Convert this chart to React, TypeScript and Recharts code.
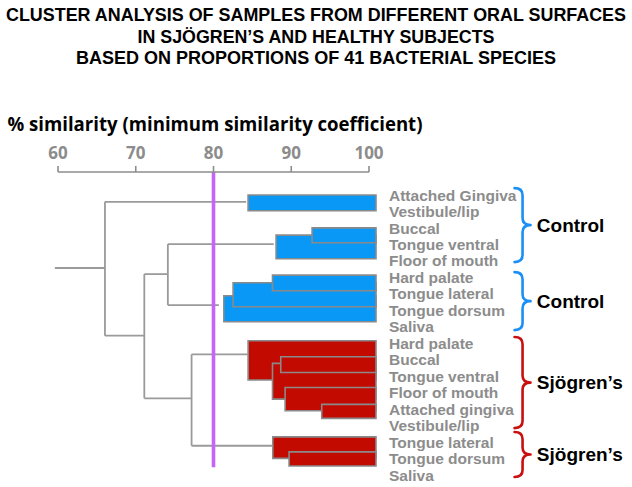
import React from 'react';
import { ComposedChart, XAxis, YAxis, ReferenceArea, ReferenceLine, Scatter } from 'recharts';

// ---------- data ----------
const TITLE_LINES = [
  'CLUSTER ANALYSIS OF SAMPLES FROM DIFFERENT ORAL SURFACES',
  'IN SJÖGREN’S AND HEALTHY SUBJECTS',
  'BASED ON PROPORTIONS OF 41 BACTERIAL SPECIES',
];
const AXIS_TITLE = '% similarity (minimum similarity coefficient)';
const X_TICKS = [60, 70, 80, 90, 100];

const ROW_LABELS = [
  'Attached Gingiva',
  'Vestibule/lip',
  'Buccal',
  'Tongue ventral',
  'Floor of mouth',
  'Hard palate',
  'Tongue lateral',
  'Tongue dorsum',
  'Saliva',
  'Hard palate',
  'Buccal',
  'Tongue ventral',
  'Floor of mouth',
  'Attached gingiva',
  'Vestibule/lip',
  'Tongue lateral',
  'Tongue dorsum',
  'Saliva',
];

// merge blocks: similarity at which the cluster joins, and the row span it covers
const CONTROL_MERGES = [
  { sim: 84.45, top: 0.0, bottom: 0.95 },
  { sim: 88.05, top: 2.43, bottom: 3.87 },
  { sim: 92.68, top: 1.99, bottom: 2.9 },
  { sim: 81.33, top: 6.11, bottom: 7.69 },
  { sim: 82.52, top: 5.32, bottom: 6.78 },
  { sim: 87.59, top: 4.86, bottom: 5.81 },
];
const SJOGREN_MERGES = [
  { sim: 84.45, top: 8.85, bottom: 11.23 },
  { sim: 87.59, top: 10.22, bottom: 12.39 },
  { sim: 88.65, top: 9.82, bottom: 10.77 },
  { sim: 89.21, top: 11.68, bottom: 13.1 },
  { sim: 93.92, top: 12.71, bottom: 13.56 },
  { sim: 87.63, top: 14.68, bottom: 15.99 },
  { sim: 89.72, top: 15.59, bottom: 16.45 },
];
const MERGE_END = 100.9;

// dendrogram links
const H_LINKS = [
  { row: 4.43, from: 59.6, to: 66.04 },
  { row: 0.41, from: 66.04, to: 84.2 },
  { row: 8.54, from: 66.04, to: 71.1 },
  { row: 4.8, from: 71.1, to: 74.13 },
  { row: 2.98, from: 74.13, to: 87.75 },
  { row: 6.68, from: 74.13, to: 80.69 },
  { row: 12.34, from: 71.1, to: 77.18 },
  { row: 9.67, from: 77.18, to: 84.45 },
  { row: 15.22, from: 77.18, to: 87.63 },
];
const V_LINKS = [
  { sim: 66.04, from: 0.41, to: 8.54 },
  { sim: 71.1, from: 4.8, to: 12.34 },
  { sim: 74.13, from: 2.98, to: 6.68 },
  { sim: 77.18, from: 9.67, to: 15.22 },
];

const THRESHOLD = 80;
const THRESHOLD_END_ROW = 16.53;

const GROUPS = [
  { label: 'Control', kind: 'control', top: -0.42, bottom: 4.07 },
  { label: 'Control', kind: 'control', top: 4.68, bottom: 8.2 },
  { label: 'Sjögren’s', kind: 'sjogren', top: 8.62, bottom: 14.15 },
  { label: 'Sjögren’s', kind: 'sjogren', top: 14.39, bottom: 17.12 },
];

// leaves (all samples are 100% similar to themselves)
const LEAVES = ROW_LABELS.map((label, i) => ({ sim: 100, row: i, label }));

// ---------- layout / style ----------
const W = 632;
const H = 487;
const ROW_DOMAIN: [number, number] = [-1.4, 17.3];
const BRACE_X: [number, number] = [118.72, 120.78];
const BLUE = '#0a98f6';
const RED = '#c20a00';
const GRAY_LINE = '#9a9a9a';
const GRAY_EDGE = '#8a8a8a';
const GRAY_TEXT = '#8c8c8c';
const PURPLE = '#c564f6';
const BRACE_COLORS: Record<string, string> = { control: '#1a8ff5', sjogren: '#c81010' };
const TITLE_WIDTHS = [620, 357, 480];
const TITLE_BASELINES = [20.6, 42.6, 64.3];

const Brace = (props: any) => {
  const { x, y, width, height, color, label } = props;
  const xl = x;
  const xm = x + width * 0.5;
  const xr = x + width;
  const ym = y + height / 2;
  const yb = y + height;
  const r = 7;
  const d = `M ${xl} ${y} Q ${xm} ${y} ${xm} ${y + r} L ${xm} ${ym - r} Q ${xm} ${ym} ${xr} ${ym} Q ${xm} ${ym} ${xm} ${ym + r} L ${xm} ${yb - r} Q ${xm} ${yb} ${xl} ${yb}`;
  return (
    <g>
      <path d={d} fill="none" stroke={color} strokeWidth={2.6} strokeLinecap="round" strokeLinejoin="round" />
      <text
        x={xr + 6.3}
        y={ym}
        dominantBaseline="central"
        fill="#000"
        fontSize={19}
        fontWeight={700}
        fontFamily="'Liberation Sans', Arial, sans-serif"
      >
        {label}
      </text>
    </g>
  );
};

const NoShape = () => <g />;

export default function App() {
  return (
    <div style={{ position: 'absolute', left: 0, top: 0, width: W, height: H, background: '#fff' }}>
      <ComposedChart width={W} height={H} data={LEAVES} margin={{ top: 132, right: 0, bottom: 7, left: 58 }}>
        <XAxis
          dataKey="sim"
          type="number"
          orientation="top"
          domain={[60, 100]}
          ticks={X_TICKS}
          interval={0}
          allowDataOverflow
          height={40}
          tickSize={6}
          tickMargin={7}
          axisLine={{ stroke: GRAY_TEXT, strokeWidth: 1.6 }}
          tickLine={{ stroke: GRAY_TEXT, strokeWidth: 1.6 }}
          tick={{ fill: GRAY_TEXT, fontSize: 17, fontWeight: 700, fontFamily: "'Open Sans', sans-serif" }}
        />
        <YAxis
          dataKey="row"
          type="number"
          orientation="right"
          domain={ROW_DOMAIN}
          reversed
          allowDataOverflow
          ticks={ROW_LABELS.map((_, i) => i)}
          interval={0}
          tickFormatter={(v: number) => ROW_LABELS[v] ?? ''}
          axisLine={false}
          tickLine={false}
          tickSize={0}
          tickMargin={20}
          width={263}
          tick={{ fill: GRAY_TEXT, fontSize: 15.5, fontWeight: 700, fontFamily: "'Liberation Sans', Arial, sans-serif", textAnchor: 'start' }}
        />
        <Scatter data={LEAVES} dataKey="row" shape={NoShape} isAnimationActive={false} />
        {H_LINKS.map((l, i) => (
          <ReferenceLine
            key={`h${i}`}
            segment={[{ x: l.from, y: l.row }, { x: l.to, y: l.row }]}
            stroke={GRAY_LINE}
            strokeWidth={1.8}
            ifOverflow="visible"
          />
        ))}
        {V_LINKS.map((l, i) => (
          <ReferenceLine
            key={`v${i}`}
            segment={[{ x: l.sim, y: l.from }, { x: l.sim, y: l.to }]}
            stroke={GRAY_LINE}
            strokeWidth={1.8}
            ifOverflow="visible"
          />
        ))}
        {CONTROL_MERGES.map((m, i) => (
          <ReferenceArea
            key={`c${i}`}
            x1={m.sim}
            x2={MERGE_END}
            y1={m.top}
            y2={m.bottom}
            fill={BLUE}
            fillOpacity={1}
            stroke={GRAY_EDGE}
            strokeWidth={1.6}
            ifOverflow="visible"
          />
        ))}
        {SJOGREN_MERGES.map((m, i) => (
          <ReferenceArea
            key={`s${i}`}
            x1={m.sim}
            x2={MERGE_END}
            y1={m.top}
            y2={m.bottom}
            fill={RED}
            fillOpacity={1}
            stroke={GRAY_EDGE}
            strokeWidth={1.6}
            ifOverflow="visible"
          />
        ))}
        <ReferenceLine
          segment={[{ x: THRESHOLD, y: ROW_DOMAIN[0] }, { x: THRESHOLD, y: THRESHOLD_END_ROW }]}
          stroke={PURPLE}
          strokeWidth={3.6}
          ifOverflow="visible"
        />
        {GROUPS.map((g, i) => (
          <ReferenceArea
            key={`g${i}`}
            x1={BRACE_X[0]}
            x2={BRACE_X[1]}
            y1={g.top}
            y2={g.bottom}
            ifOverflow="visible"
            shape={(p: any) => <Brace {...p} color={BRACE_COLORS[g.kind]} label={g.label} />}
          />
        ))}
      </ComposedChart>
      <svg
        width={W}
        height={H}
        style={{ position: 'absolute', left: 0, top: 0, pointerEvents: 'none' }}
      >
        {TITLE_LINES.map((t, i) => (
          <text
            key={i}
            x={W / 2}
            y={TITLE_BASELINES[i]}
            textAnchor="middle"
            textLength={TITLE_WIDTHS[i]}
            lengthAdjust="spacingAndGlyphs"
            fill="#000"
            fontSize={17.6}
            fontWeight={700}
            fontFamily="'Liberation Sans', Arial, sans-serif"
          >
            {t}
          </text>
        ))}
        <text
          x={7.5}
          y={131}
          textLength={415}
          lengthAdjust="spacingAndGlyphs"
          fill="#000"
          fontSize={19}
          fontWeight={700}
          fontFamily="'Open Sans', sans-serif"
        >
          {AXIS_TITLE}
        </text>
      </svg>
    </div>
  );
}
